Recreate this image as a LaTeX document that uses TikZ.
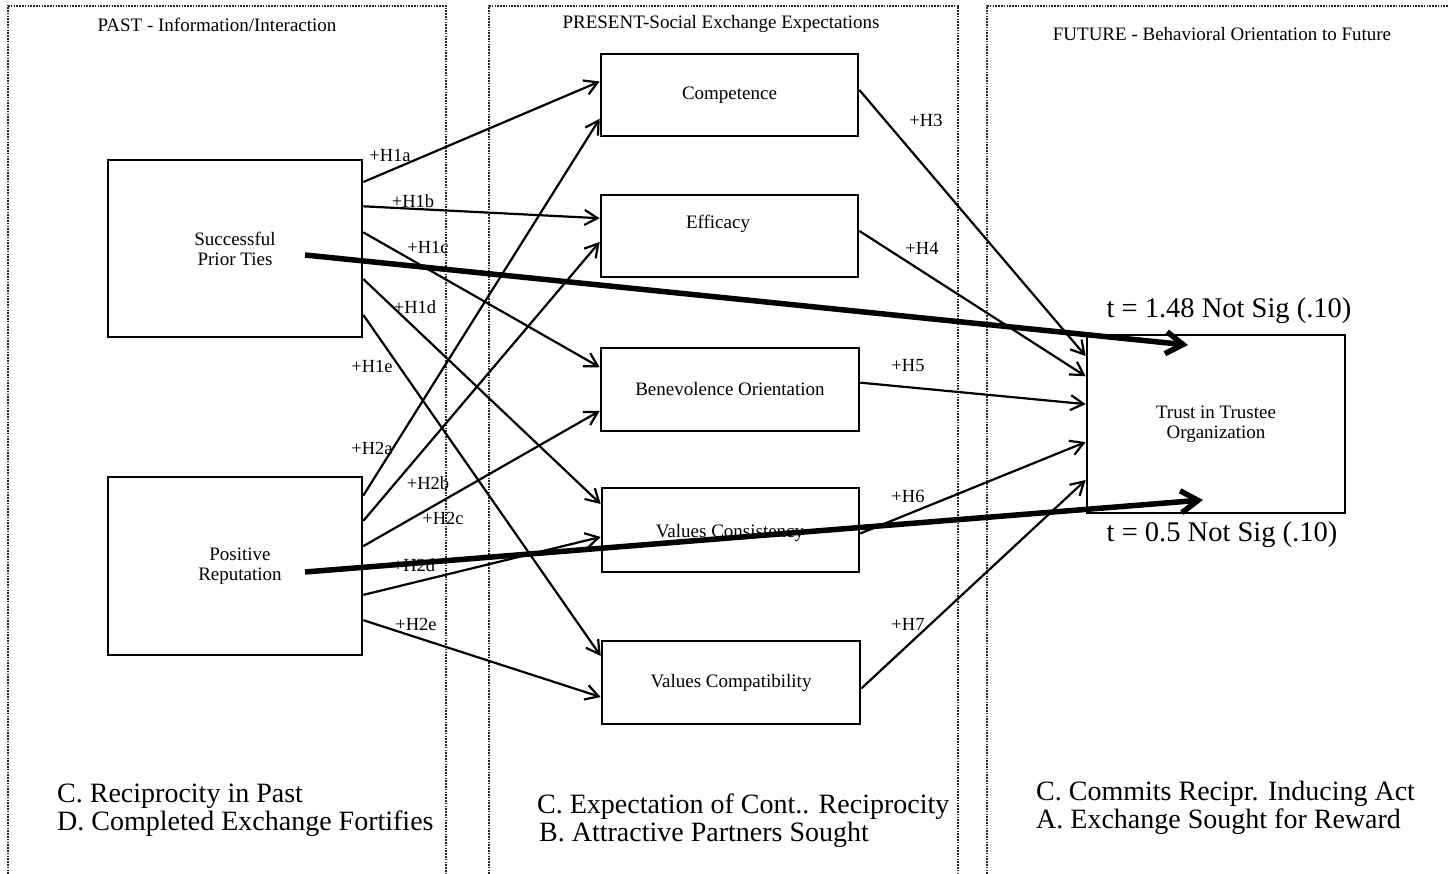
\documentclass[tikz,border=0pt]{standalone}
\usepackage{fontspec}
\setmainfont{Liberation Serif}
\usetikzlibrary{arrows.meta,calc}
\begin{document}
\begin{tikzpicture}[x=1pt,y=-1pt,
  panel/.style={line width=1.7pt,dash pattern=on 1.6pt off 1.2pt,black!85},
  box/.style={draw,line width=2.6pt,inner sep=0pt,align=center,font=\fontsize{19}{20}\selectfont},
  lbl/.style={inner sep=0pt,font=\fontsize{18.5}{20}\selectfont},
  ttl/.style={inner sep=0pt,font=\fontsize{19}{21}\selectfont},
  big/.style={inner sep=0pt,font=\fontsize{28.5}{30}\selectfont},
  low/.style={inner sep=0pt,anchor=base west,font=\fontsize{28}{30}\selectfont},
  conn/.style={line width=2.2pt,-{Straight Barb[length=13pt,width=15pt]}},
  heavy/.style={line width=5.5pt,-{Straight Barb[length=17pt,width=22pt]}}
]
\useasboundingbox (0,0) rectangle (1449,874);
% panels
\draw[panel] (8,874) -- (8,6) -- (446,6) -- (446,874);
\draw[panel] (489,874) -- (489,6) -- (958,6) -- (958,874);
\draw[panel] (987,874) -- (987,6) -- (1449,6);
% titles
\node[ttl] (tpast) at (217,25) {PAST - Information/Interaction};
\node[ttl] (tpres) at (721,24) {PRESENT-Social Exchange Expectations};
\node[ttl] (tfut) at (1222,34) {FUTURE - Behavioral Orientation to Future};
% boxes
\node[box,minimum width=254pt,minimum height=177pt] (spt) at (235,248.5) {Successful\\Prior Ties};
\node[box,minimum width=254pt,minimum height=178pt] (rep) at (235,566) {\hspace*{10pt}Positive\\\hspace*{10pt}Reputation};
\node[box,minimum width=257pt,minimum height=82pt] (comp) at (729.5,95) {Competence};
\node[box,minimum width=257pt,minimum height=82pt] (eff) at (729.5,236) {};
\node[lbl,font=\fontsize{19}{20}\selectfont] (efft) at (718,224) {Efficacy};
\node[box,minimum width=258pt,minimum height=83pt] (ben) at (730,389.5) {Benevolence Orientation};
\node[box,minimum width=257pt,minimum height=84pt] (cons) at (730.5,530) {};
\node[lbl,font=\fontsize{19}{20}\selectfont] (const) at (730,533) {Values Consistency};
\node[box,minimum width=258pt,minimum height=83pt] (compat) at (731,682.5) {Values Compatibility};
\node[box,minimum width=258pt,minimum height=178pt] (trust) at (1216,424) {Trust in Trustee\\Organization};
% connectors from Successful Prior Ties
\draw[conn] ($(spt.north east)!0.13!(spt.south east)$) -- ($(comp.north west)!0.34!(comp.south west)$);
\draw[conn] ($(spt.north east)!0.265!(spt.south east)$) -- ($(eff.north west)!0.29!(eff.south west)$);
\draw[conn] ($(spt.north east)!0.41!(spt.south east)$) -- ($(ben.north west)!0.24!(ben.south west)$);
\draw[conn] ($(spt.north east)!0.67!(spt.south east)$) -- ($(cons.north west)!0.2!(cons.south west)$);
\draw[conn] ($(spt.north east)!0.87!(spt.south east)$) -- ($(compat.north west)!0.19!(compat.south west)$);
% connectors from Positive Reputation
\draw[conn] ($(rep.north east)!0.11!(rep.south east)$) -- ($(comp.north west)!0.78!(comp.south west)$);
\draw[conn] ($(rep.north east)!0.25!(rep.south east)$) -- ($(eff.north west)!0.57!(eff.south west)$);
\draw[conn] ($(rep.north east)!0.39!(rep.south east)$) -- ($(ben.north west)!0.75!(ben.south west)$);
\draw[conn] ($(rep.north east)!0.66!(rep.south east)$) -- ($(cons.north west)!0.58!(cons.south west)$);
\draw[conn] ($(rep.north east)!0.80!(rep.south east)$) -- ($(compat.north west)!0.67!(compat.south west)$);
% connectors to Trust
\draw[conn] ($(comp.north east)!0.44!(comp.south east)$) -- ($(trust.north west)!0.124!(trust.south west)$);
\draw[conn] ($(eff.north east)!0.44!(eff.south east)$) -- ($(trust.north west)!0.236!(trust.south west)$);
\draw[conn] ($(ben.north east)!0.42!(ben.south east)$) -- ($(trust.north west)!0.39!(trust.south west)$);
\draw[conn] ($(cons.north east)!0.54!(cons.south east)$) -- ($(trust.north west)!0.60!(trust.south west)$);
\draw[conn] ($(compat.north east)!0.57!(compat.south east)$) -- ($(trust.north west)!0.81!(trust.south west)$);
% labels
\node[lbl] (l1a) at (390,155) {+H1a};
\node[lbl] (l1b) at (413,201) {+H1b};
\node[lbl] (l1c) at (428,247) {+H1c};
\node[lbl] (l1d) at (415,307) {+H1d};
\node[lbl] (l1e) at (372,366) {+H1e};
\node[lbl] (l2a) at (372,448) {+H2a};
\node[lbl] (l2b) at (428,483) {+H2b};
\node[lbl] (l2c) at (443,518) {+H2c};
\node[lbl] (l2d) at (414,565) {+H2d};
\node[lbl] (l2e) at (416,624) {+H2e};
\node[lbl] (l3) at (926,120) {+H3};
\node[lbl] (l4) at (922,248) {+H4};
\node[lbl] (l5) at (908,366) {+H5};
\node[lbl] (l6) at (908,496) {+H6};
\node[lbl] (l7) at (908,624) {+H7};
% heavy arrows
\coordinate (s1) at (305,255);
\coordinate (e1) at (1188,345);
\coordinate (s2) at (305,572);
\coordinate (e2) at (1203,500);
\draw[heavy] (s1) -- (e1);
\draw[heavy] (s2) -- (e2);
\node[big] (t1) at (1229,311) {t = 1.48 Not Sig (.10)};
\node[big] (t2) at (1222,535) {t = 0.5 Not Sig (.10)};
% bottom texts
\node[low] (b1) at (57,802) {C. Reciprocity in Past};
\node[low] (b2) at (57,830) {D. Completed Exchange Fortifies};
\node[low] (b3) at (537,813) {C. Expectation of Cont.. Reciprocity};
\node[low] (b4) at (539,841) {B. Attractive Partners Sought};
\node[low] (b5) at (1036,800) {C. Commits Recipr. Inducing Act};
\node[low] (b6) at (1036,828) {A. Exchange Sought for Reward};
\end{tikzpicture}
\end{document}
